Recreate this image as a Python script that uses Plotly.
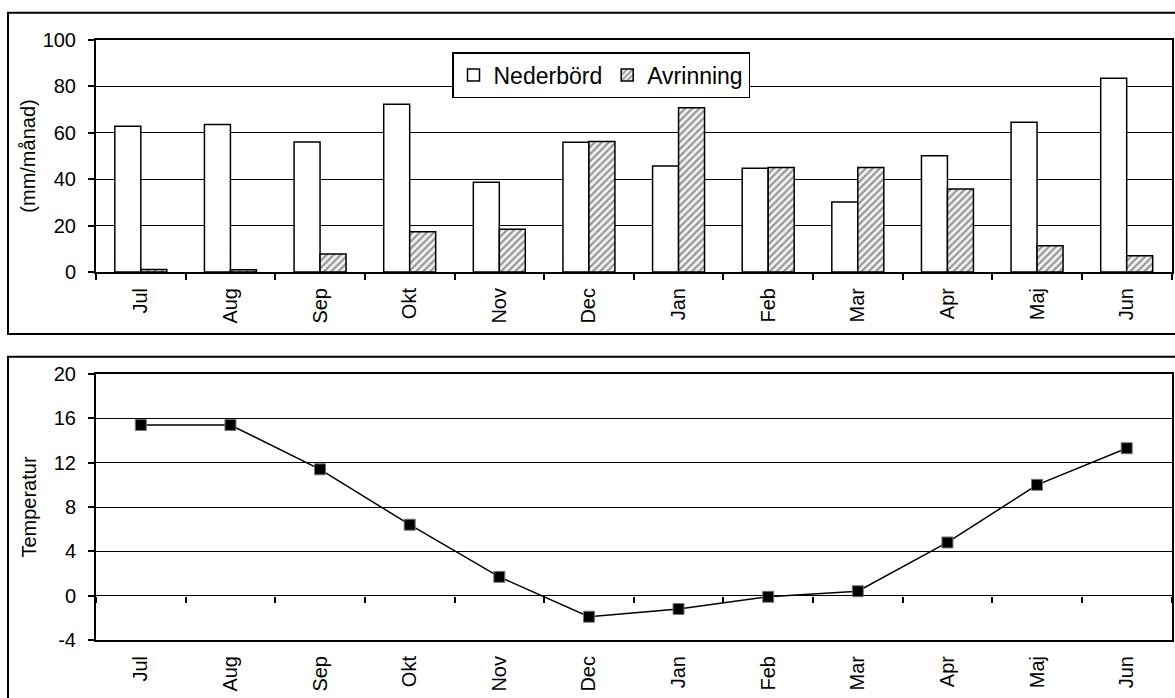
import plotly.graph_objects as go

months = ["Jul", "Aug", "Sep", "Okt", "Nov", "Dec", "Jan", "Feb", "Mar", "Apr", "Maj", "Jun"]
nederbord = [62.8, 63.6, 56.0, 72.3, 38.7, 55.9, 45.7, 44.7, 30.2, 50.1, 64.5, 83.5]
avrinning = [1.1, 1.0, 7.8, 17.4, 18.4, 56.2, 70.8, 45.0, 45.0, 35.8, 11.3, 7.0]
temperatur = [15.4, 15.4, 11.4, 6.4, 1.7, -1.9, -1.2, -0.1, 0.4, 4.8, 10.0, 13.3]

top_ticks = [0, 20, 40, 60, 80, 100]
top_ticktext = ["0", "20", "40", "60", "80", "100"]
temp_ticks = [-4, 0, 4, 8, 12, 16, 20]
temp_ticktext = ["-4", "0", "4", "8", "12", "16", "20"]

W, H = 1175, 698
FONT = "Arial, 'Liberation Sans', sans-serif"

def fy(py):
    return 1 - py / H

top_dom = [fy(272), fy(40)]
bot_dom = [fy(640), fy(374)]
x_dom = [96 / W, 1171.5 / W]
cat_range = [-0.5, len(months) - 0.5]

y2_range = [-4, 20]
zero_pos = bot_dom[0] + (0 - y2_range[0]) / (y2_range[1] - y2_range[0]) * (bot_dom[1] - bot_dom[0])

fig = go.Figure()
fig.add_trace(go.Bar(
    x=months, y=nederbord, name="Nederbörd",
    marker=dict(color="white", line=dict(color="black", width=1.5)),
    xaxis="x", yaxis="y",
))
fig.add_trace(go.Bar(
    x=months, y=avrinning, name="Avrinning",
    marker=dict(color="white", line=dict(color="black", width=1.5),
                pattern=dict(shape="/", fgcolor="#3c3c3c", bgcolor="#f2f2f2", size=5, solidity=0.45)),
    xaxis="x", yaxis="y",
))
fig.add_trace(go.Scatter(
    x=months, y=temperatur, mode="lines+markers", showlegend=False,
    line=dict(color="black", width=1.5),
    marker=dict(symbol="square", size=11, color="black", line=dict(color="#777", width=1)),
    xaxis="x2", yaxis="y2",
))
# invisible helper trace to drive the tick marks on the zero line
fig.add_trace(go.Scatter(
    x=months, y=temperatur, mode="lines", showlegend=False, hoverinfo="skip",
    line=dict(color="rgba(0,0,0,0)", width=0),
    xaxis="x3", yaxis="y2",
))

axis_common = dict(showline=True, linecolor="black", linewidth=2, mirror=True,
                   tickfont=dict(family=FONT, size=20, color="black"), automargin=False)

fig.update_layout(
    width=W, height=H,
    margin=dict(l=0, r=0, t=0, b=0),
    paper_bgcolor="white", plot_bgcolor="white",
    font=dict(family=FONT, color="black"),
    barmode="group", bargap=0.42, bargroupgap=0,
    showlegend=True,
    legend=dict(orientation="h", x=601 / W, xanchor="center", y=fy(52), yanchor="top",
                bgcolor="white", bordercolor="black", borderwidth=1.5,
                font=dict(family=FONT, size=23, color="black"),
                itemwidth=30, tracegroupgap=0),
    xaxis=dict(domain=x_dom, anchor="y", type="category", categoryorder="array", categoryarray=months,
               range=cat_range,
               tickson="boundaries", ticks="outside", ticklen=6, tickwidth=1.5, tickcolor="black",
               tickangle=-90, showgrid=False, ticklabelstandoff=6, **axis_common),
    yaxis=dict(domain=top_dom, anchor="x", range=[0, 100], tickmode="array",
               tickvals=top_ticks, ticktext=top_ticktext, showgrid=True,
               gridcolor="black", gridwidth=1, zeroline=False,
               ticks="outside", ticklen=6, tickwidth=1.5, tickcolor="black", ticklabelstandoff=8,
               title=dict(text="(mm/månad)", font=dict(family=FONT, size=20, color="black"), standoff=2),
               **axis_common),
    xaxis2=dict(domain=x_dom, anchor="y2", type="category", categoryorder="array", categoryarray=months,
                range=cat_range,
                ticks="", tickangle=-90, showgrid=False, ticklabelstandoff=6, **axis_common),
    xaxis3=dict(domain=x_dom, anchor="free", position=zero_pos, overlaying="x2", type="category",
                categoryorder="array", categoryarray=months, range=cat_range, tickson="boundaries",
                ticks="outside", ticklen=6, tickwidth=1.5, tickcolor="black",
                showticklabels=False, showline=False, showgrid=False, automargin=False),
    yaxis2=dict(domain=bot_dom, anchor="x2", range=y2_range, tickmode="array",
                tickvals=temp_ticks, ticktext=temp_ticktext, showgrid=True,
                gridcolor="black", gridwidth=1, zeroline=False,
                ticks="outside", ticklen=6, tickwidth=1.5, tickcolor="black", ticklabelstandoff=8,
                title=dict(text="Temperatur", font=dict(family=FONT, size=20, color="black"), standoff=12),
                **axis_common),
    shapes=[
        dict(type="rect", xref="paper", yref="paper", x0=8 / W, x1=1.02, y0=fy(334), y1=fy(12.7),
             line=dict(color="black", width=2), layer="below"),
        dict(type="rect", xref="paper", yref="paper", x0=8 / W, x1=1.02, y0=-0.05, y1=fy(356.7),
             line=dict(color="black", width=2), layer="below"),
    ],
)

fig.write_html("out.html", config={"displayModeBar": False},
               post_script="document.body.style.margin='0';document.body.style.overflow='hidden';")
